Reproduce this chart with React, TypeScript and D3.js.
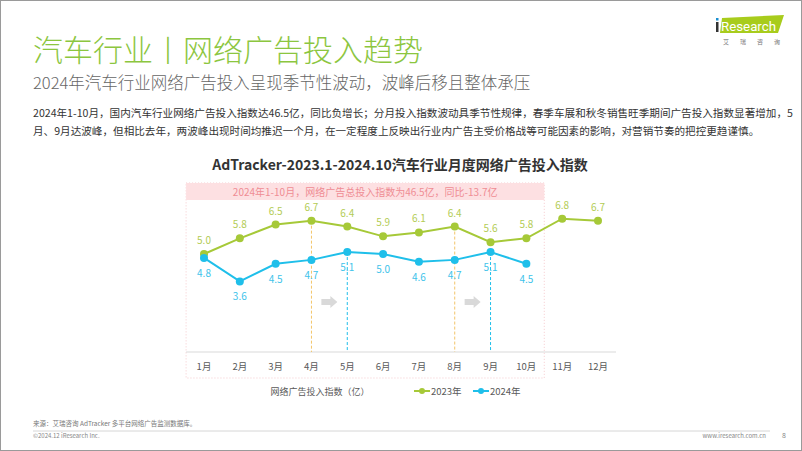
import React, { useEffect, useRef } from 'react';
import * as d3 from 'd3';

const months = ['1月', '2月', '3月', '4月', '5月', '6月', '7月', '8月', '9月', '10月', '11月', '12月'];
const values2023 = [5.0, 5.8, 6.5, 6.7, 6.4, 5.9, 6.1, 6.4, 5.6, 5.8, 6.8, 6.7];
const values2024 = [4.8, 3.6, 4.5, 4.7, 5.1, 5.0, 4.6, 4.7, 5.1, 4.5];
// months where the peak moved: 2023 peak -> 2024 peak
const peakShifts = [
  { from: 3, to: 4 },
  { from: 7, to: 8 },
];

const GREEN = '#a6c938';
const BLUE = '#1fbfea';
const FONT = '"Noto Sans CJK SC", "Noto Sans", sans-serif';

const App: React.FC = () => {
  const ref = useRef<SVGSVGElement | null>(null);

  useEffect(() => {
    document.body.style.margin = '0';
    if (!ref.current) return;
    const svg = d3.select(ref.current);
    svg.selectAll('*').remove();

    const W = 802;
    const H = 451;
    svg.attr('width', W).attr('height', H).style('font-family', FONT);

    svg.append('rect').attr('width', W).attr('height', H).attr('fill', '#fff')
      .attr('stroke', '#9a9a9a').attr('stroke-width', 2);

    // header
    svg.append('text').attr('x', 33).attr('y', 61).attr('fill', '#8cc63f')
      .style('font-size', '30px').style('font-weight', 300).text('汽车行业丨网络广告投入趋势');
    svg.append('text').attr('x', 33).attr('y', 89).attr('fill', '#666')
      .style('font-size', '16.5px').style('font-weight', 300).text('2024年汽车行业网络广告投入呈现季节性波动，波峰后移且整体承压');
    const para = [
      '2024年1-10月，国内汽车行业网络广告投入指数达46.5亿，同比负增长；分月投入指数波动具季节性规律，春季车展和秋冬销售旺季期间广告投入指数显著增加，5',
      '月、9月达波峰，但相比去年，两波峰出现时间均推迟一个月，在一定程度上反映出行业内广告主受价格战等可能因素的影响，对营销节奏的把控更趋谨慎。',
    ];
    svg.append('g').selectAll('text').data(para).enter().append('text')
      .attr('x', 33).attr('y', (d, i) => 117 + i * 18).attr('fill', '#333')
      .style('font-size', '10.6px').text(d => d);

    // logo
    const logo = svg.append('g');
    logo.append('path').attr('d', 'M722,18 L784,15 L778,33 L720,33 Z').attr('fill', '#a8cc1c');
    logo.append('rect').attr('x', 716).attr('y', 22).attr('width', 2.5).attr('height', 10).attr('fill', '#333');
    logo.append('rect').attr('x', 716).attr('y', 18).attr('width', 2.5).attr('height', 2.5).attr('fill', '#1a8fd0');
    logo.append('text').attr('x', 721).attr('y', 31).attr('fill', '#fff')
      .attr('textLength', 55).attr('lengthAdjust', 'spacingAndGlyphs')
      .style('font-size', '13px').style('font-family', 'Roboto, sans-serif').text('Research');
    ['艾', '瑞', '咨', '询'].forEach((c, i) => {
      logo.append('text').attr('x', 723 + i * 17).attr('y', 44).attr('fill', '#777')
        .style('font-size', '6px').text(c);
    });

    // chart
    svg.append('text').attr('x', 400).attr('y', 170).attr('text-anchor', 'middle')
      .attr('fill', '#333').style('font-size', '14px').style('font-weight', 'bold')
      .text('AdTracker-2023.1-2024.10汽车行业月度网络广告投入指数');

    const x = d3.scalePoint<string>().domain(months).range([204, 598]);
    const step = x.step();
    const y = d3.scaleLinear().domain([0, 10]).range([352, 156]);

    const boxL = x(months[0])! - step / 2;
    const boxR = x(months[9])! + step / 2;
    svg.append('rect').attr('x', boxL).attr('y', 183).attr('width', boxR - boxL).attr('height', 195)
      .attr('fill', 'none').attr('stroke', '#f5c9cc').attr('stroke-dasharray', '1,2');
    svg.append('rect').attr('x', boxL).attr('y', 183).attr('width', boxR - boxL).attr('height', 17)
      .attr('fill', '#fde0e2');
    svg.append('text').attr('x', (boxL + boxR) / 2).attr('y', 195.5).attr('text-anchor', 'middle')
      .attr('fill', '#ef8d94').style('font-size', '10px')
      .text('2024年1-10月，网络广告总投入指数为46.5亿，同比-13.7亿');

    // axis
    svg.append('line').attr('x1', boxL).attr('x2', 616).attr('y1', y(0)).attr('y2', y(0))
      .attr('stroke', '#d9d9d9').attr('stroke-width', 1);
    svg.append('g').selectAll('text').data(months).enter().append('text')
      .attr('x', d => x(d)!).attr('y', 369.5).attr('text-anchor', 'middle')
      .attr('fill', '#595959').style('font-size', '9.5px').text(d => d);

    // peak shift markers
    peakShifts.forEach(p => {
      const xa = x(months[p.from])!;
      const xb = x(months[p.to])!;
      svg.append('line').attr('x1', xa).attr('x2', xa).attr('y1', y(values2023[p.from])).attr('y2', y(0))
        .attr('stroke', '#f3c56a').attr('stroke-dasharray', '3,2').attr('stroke-width', 1);
      svg.append('line').attr('x1', xb).attr('x2', xb).attr('y1', y(values2024[p.to])).attr('y2', y(0))
        .attr('stroke', BLUE).attr('stroke-dasharray', '3,2').attr('stroke-width', 1);
      const cx = (xa + xb) / 2;
      const cy = 302;
      svg.append('path')
        .attr('d', `M${cx - 8},${cy - 3} L${cx + 1},${cy - 3} L${cx + 1},${cy - 6} L${cx + 8},${cy} L${cx + 1},${cy + 6} L${cx + 1},${cy + 3} L${cx - 8},${cy + 3} Z`)
        .attr('fill', '#d9d9d9');
    });

    const line = d3.line<number>().x((d, i) => x(months[i])!).y(d => y(d));

    const drawSeries = (vals: number[], color: string, labelColor: string, above: boolean) => {
      const g = svg.append('g');
      g.append('path').datum(vals).attr('d', line).attr('fill', 'none')
        .attr('stroke', color).attr('stroke-width', 2);
      g.selectAll('circle').data(vals).enter().append('circle')
        .attr('cx', (d, i) => x(months[i])!).attr('cy', d => y(d)).attr('r', 4).attr('fill', color);
      g.selectAll('text').data(vals).enter().append('text')
        .attr('x', (d, i) => x(months[i])!).attr('y', d => y(d) + (above ? -10 : 19))
        .attr('text-anchor', 'middle').attr('fill', labelColor).style('font-size', '10px')
        .text(d => d.toFixed(1));
    };
    drawSeries(values2023, GREEN, '#b3cc55', true);
    drawSeries(values2024, BLUE, '#3ec3ea', false);

    // legend
    svg.append('text').attr('x', 320).attr('y', 394.5).attr('text-anchor', 'middle')
      .attr('fill', '#595959').style('font-size', '9px').text('网络广告投入指数（亿）');
    const legend = [
      { label: '2023年', color: GREEN, x0: 414 },
      { label: '2024年', color: BLUE, x0: 473 },
    ];
    legend.forEach(l => {
      svg.append('line').attr('x1', l.x0).attr('x2', l.x0 + 16).attr('y1', 391).attr('y2', 391)
        .attr('stroke', l.color).attr('stroke-width', 2);
      svg.append('circle').attr('cx', l.x0 + 8).attr('cy', 391).attr('r', 3).attr('fill', l.color);
      svg.append('text').attr('x', l.x0 + 17).attr('y', 394.5).attr('fill', '#595959')
        .style('font-size', '9.5px').text(l.label);
    });

    // footer
    svg.append('text').attr('x', 33).attr('y', 426).attr('fill', '#777').style('font-size', '6.5px')
      .text('来源：艾瑞咨询 AdTracker 多平台网络广告监测数据库。');
    svg.append('line').attr('x1', 33).attr('x2', 770).attr('y1', 431).attr('y2', 431)
      .attr('stroke', '#ccc').attr('stroke-width', 0.8);
    svg.append('text').attr('x', 33).attr('y', 438).attr('fill', '#888').style('font-size', '6px')
      .text('©2024.12 iResearch Inc.');
    svg.append('text').attr('x', 766).attr('y', 438).attr('text-anchor', 'end').attr('fill', '#888')
      .style('font-size', '6px').text('www.iresearch.com.cn');
    svg.append('text').attr('x', 782).attr('y', 438).attr('fill', '#888').style('font-size', '7px').text('8');
  }, []);

  return <svg ref={ref} style={{ position: 'absolute', left: 0, top: 0, display: 'block' }} />;
};

export default App;
